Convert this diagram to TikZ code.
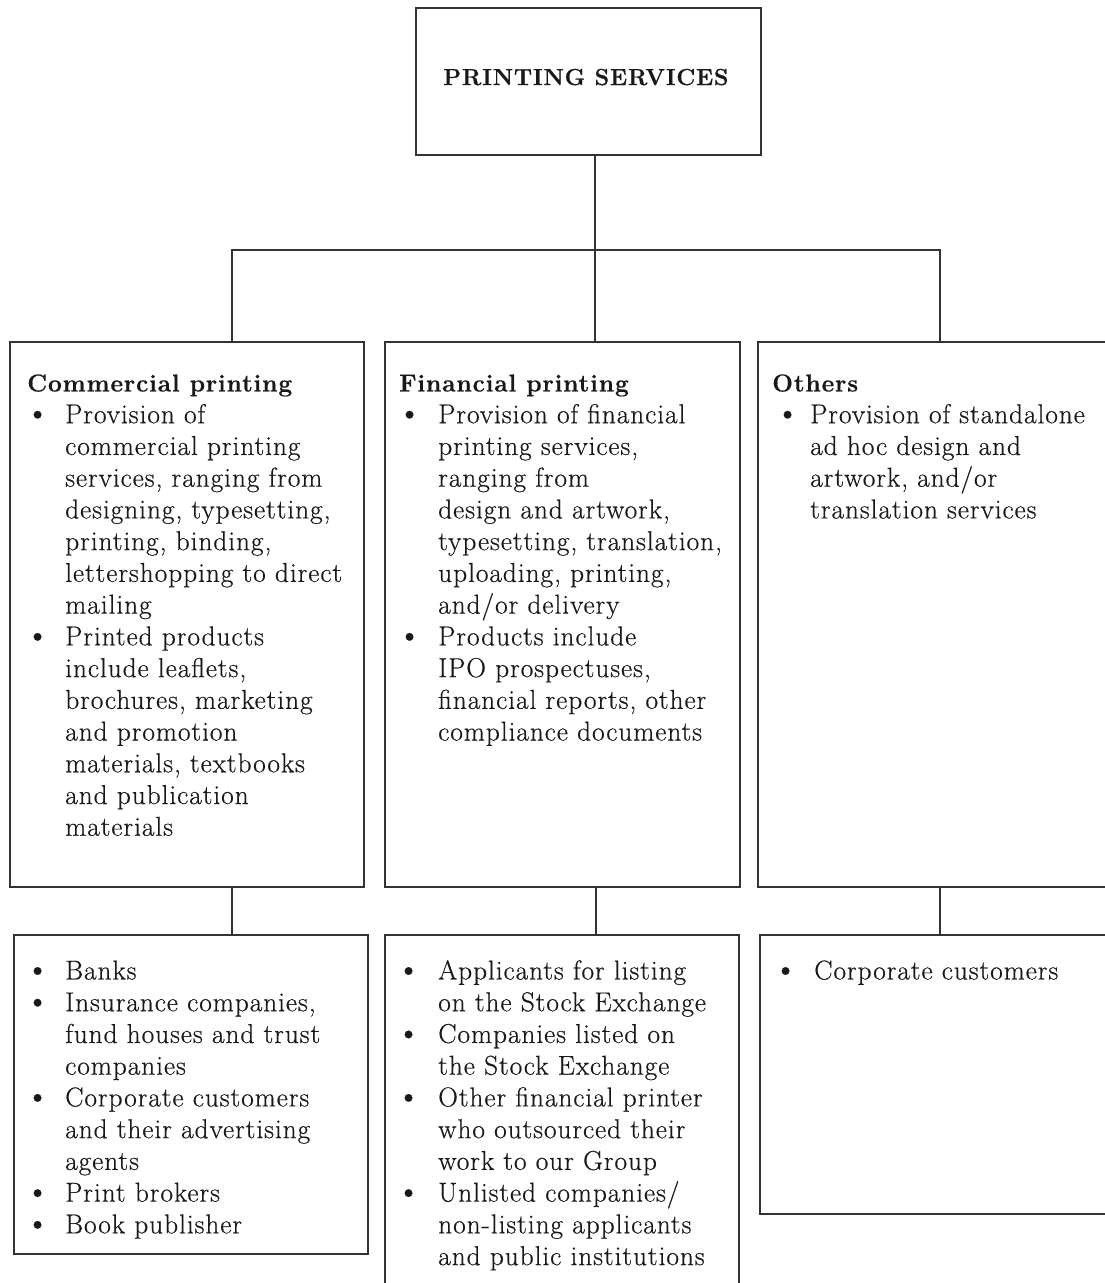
\documentclass[tikz,border=0pt]{standalone}
\usepackage{fontspec}
\setmainfont{Latin Modern Roman}[LetterSpace=3.5,BoldFeatures={FakeBold=0.6}]
\newfontfamily\bodyfont{Latin Modern Roman}[LetterSpace=3.5,FakeBold=0.5]
\newdimen\px
\px=0.75pt
\newcommand\bu{\makebox[\bw\px][l]{\hspace{\bo\px}\raisebox{-0.6\px}{\scalebox{1.25}{\textbullet}}}}
\newcommand\hd[1]{\multicolumn{2}{@{}l@{}}{\hspace{\ho\px}{\rmfamily\fontsize{18.4}{23.8}\selectfont\bfseries #1}}}
\begin{document}
\begin{tikzpicture}[x=0.75pt,y=-0.75pt,
  box/.style={draw=black!80,line width=1.3pt,inner sep=0,anchor=north west},
  conn/.style={draw=black!80,line width=1.3pt},
  txt/.style={inner sep=0,anchor=north west,text=black!90,
    font=\bodyfont\fontsize{20.5}{23.8}\selectfont}]
\useasboundingbox (0,0) rectangle (1105,1283);
\clip (0,0) rectangle (1105,1283);

% boxes
\node[box,minimum width={345*\px},minimum height={147*\px}] (top) at (415,7) {};
\node[box,minimum width={354*\px},minimum height={545*\px}] (comm) at (9,341) {};
\node[box,minimum width={355*\px},minimum height={545*\px}] (fin) at (384,341) {};
\node[box,minimum width={420*\px},minimum height={545*\px}] (oth) at (757,341) {};
\node[box,minimum width={354*\px},minimum height={319*\px}] (cl1) at (13,934) {};
\node[box,minimum width={354*\px},minimum height={400*\px}] (cl2) at (384,934) {};
\node[box,minimum width={420*\px},minimum height={279*\px}] (cl3) at (759,934) {};

% connectors
\coordinate (hub) at (595,250);
\coordinate (lj) at (232,250);
\coordinate (rj) at (940,250);
\draw[conn] (top.south -| hub) -- (hub);
\draw[conn] (comm.north -| lj) -- (lj) -- (rj) -- (oth.north -| rj);
\draw[conn] (hub) -- (fin.north -| hub);
\draw[conn] (comm.south -| lj) -- (cl1.north -| lj);
\draw[conn] ([xshift=0.75pt]fin.south -| hub) -- ([xshift=0.75pt]cl2.north -| hub);
\draw[conn] (oth.south -| rj) -- (cl3.north -| rj);

% title
\node[inner sep=0,anchor=base west,text=black!90,font=\fontsize{17.4}{22}\selectfont\bfseries] (title) at (443,85) {PRINTING SERVICES};

% service descriptions
\node[txt] (tcomm) at (25,369) {\def\bo{0}\def\bw{40}\def\ho{2}%
\begin{tabular}{@{}l@{}l@{}}
\hd{Commercial printing}\\
\bu & Provision of\\
& commercial printing\\
& services, ranging from\\
& designing, typesetting,\\
& printing, binding,\\
& lettershopping to direct\\
& mailing\\
\bu & Printed products\\
& include leaflets,\\
& brochures, marketing\\
& and promotion\\
& materials, textbooks\\
& and publication\\
& materials
\end{tabular}};

\node[txt] (tfin) at (397,369) {\def\bo{0}\def\bw{41}\def\ho{2}%
\begin{tabular}{@{}l@{}l@{}}
\hd{Financial printing}\\
\bu & Provision of financial\\
& printing services,\\
& ranging from\\
& design and artwork,\\
& typesetting, translation,\\
& uploading, printing,\\
& and/or delivery\\
\bu & Products include\\
& IPO prospectuses,\\
& financial reports, other\\
& compliance documents
\end{tabular}};

\node[txt] (toth) at (772,369) {\def\bo{3}\def\bw{38}\def\ho{0}%
\begin{tabular}{@{}l@{}l@{}}
\hd{Others}\\
\bu & Provision of standalone\\
& ad hoc design and\\
& artwork, and/or\\
& translation services
\end{tabular}};

% customers
\node[txt] (tcl1) at (25,957) {\def\bo{0}\def\bw{40}%
\begin{tabular}{@{}l@{}l@{}}
\bu & Banks\\
\bu & Insurance companies,\\
& fund houses and trust\\
& companies\\
\bu & Corporate customers\\
& and their advertising\\
& agents\\
\bu & Print brokers\\
\bu & Book publisher
\end{tabular}};

\node[txt] (tcl2) at (396,957) {\def\bo{0}\def\bw{42}%
\begin{tabular}{@{}l@{}l@{}}
\bu & Applicants for listing\\
& on the Stock Exchange\\
\bu & Companies listed on\\
& the Stock Exchange\\
\bu & Other financial printer\\
& who outsourced their\\
& work to our Group\\
\bu & Unlisted companies/\\
& non-listing applicants\\
& and public institutions
\end{tabular}};

\node[txt] (tcl3) at (773,957) {\def\bo{0}\def\bw{41}%
\begin{tabular}{@{}l@{}l@{}}
\bu & Corporate customers
\end{tabular}};
\end{tikzpicture}
\end{document}
